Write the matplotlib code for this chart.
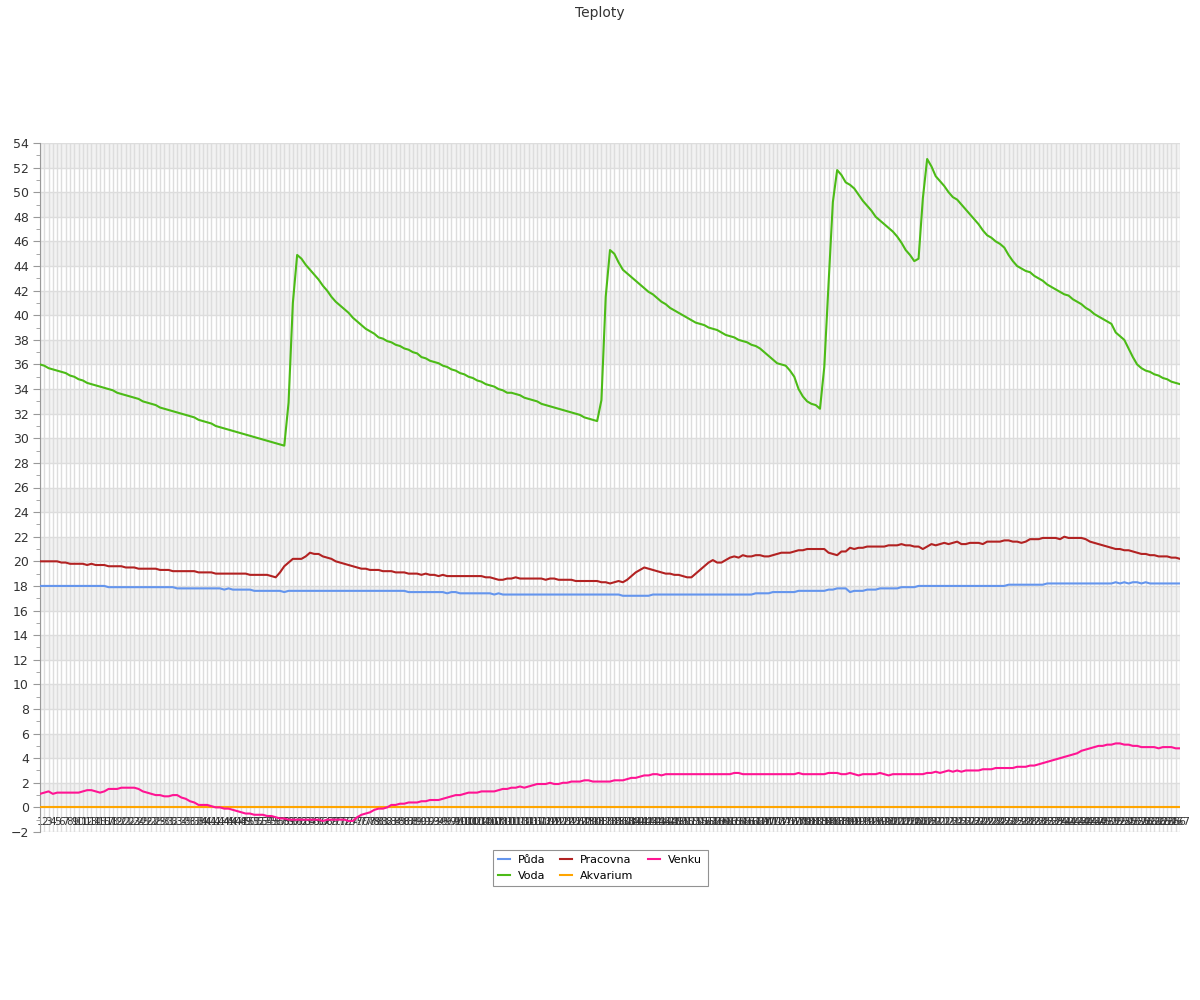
import numpy as np
import matplotlib
matplotlib.use('Agg')
import matplotlib.pyplot as plt
from matplotlib.ticker import MultipleLocator

#_____________________________________________
# data
title = "Teploty"
series_names = ["Půda", "Voda", "Pracovna", "Akvarium", "Venku"]
series_colors = ["#6495ED", "#4CBB17", "#B22222", "#FFA500", "#FF1493"]

puda = [
    18.0, 18.0, 18.0, 18.0, 18.0, 18.0, 18.0, 18.0, 18.0, 18.0,
    18.0, 18.0, 18.0, 18.0, 18.0, 18.0, 17.9, 17.9, 17.9, 17.9,
    17.9, 17.9, 17.9, 17.9, 17.9, 17.9, 17.9, 17.9, 17.9, 17.9,
    17.9, 17.9, 17.8, 17.8, 17.8, 17.8, 17.8, 17.8, 17.8, 17.8,
    17.8, 17.8, 17.8, 17.7, 17.8, 17.7, 17.7, 17.7, 17.7, 17.7,
    17.6, 17.6, 17.6, 17.6, 17.6, 17.6, 17.6, 17.5, 17.6, 17.6,
    17.6, 17.6, 17.6, 17.6, 17.6, 17.6, 17.6, 17.6, 17.6, 17.6,
    17.6, 17.6, 17.6, 17.6, 17.6, 17.6, 17.6, 17.6, 17.6, 17.6,
    17.6, 17.6, 17.6, 17.6, 17.6, 17.6, 17.5, 17.5, 17.5, 17.5,
    17.5, 17.5, 17.5, 17.5, 17.5, 17.4, 17.5, 17.5, 17.4, 17.4,
    17.4, 17.4, 17.4, 17.4, 17.4, 17.4, 17.3, 17.4, 17.3, 17.3,
    17.3, 17.3, 17.3, 17.3, 17.3, 17.3, 17.3, 17.3, 17.3, 17.3,
    17.3, 17.3, 17.3, 17.3, 17.3, 17.3, 17.3, 17.3, 17.3, 17.3,
    17.3, 17.3, 17.3, 17.3, 17.3, 17.3, 17.2, 17.2, 17.2, 17.2,
    17.2, 17.2, 17.2, 17.3, 17.3, 17.3, 17.3, 17.3, 17.3, 17.3,
    17.3, 17.3, 17.3, 17.3, 17.3, 17.3, 17.3, 17.3, 17.3, 17.3,
    17.3, 17.3, 17.3, 17.3, 17.3, 17.3, 17.3, 17.4, 17.4, 17.4,
    17.4, 17.5, 17.5, 17.5, 17.5, 17.5, 17.5, 17.6, 17.6, 17.6,
    17.6, 17.6, 17.6, 17.6, 17.7, 17.7, 17.8, 17.8, 17.8, 17.5,
    17.6, 17.6, 17.6, 17.7, 17.7, 17.7, 17.8, 17.8, 17.8, 17.8,
    17.8, 17.9, 17.9, 17.9, 17.9, 18.0, 18.0, 18.0, 18.0, 18.0,
    18.0, 18.0, 18.0, 18.0, 18.0, 18.0, 18.0, 18.0, 18.0, 18.0,
    18.0, 18.0, 18.0, 18.0, 18.0, 18.0, 18.1, 18.1, 18.1, 18.1,
    18.1, 18.1, 18.1, 18.1, 18.1, 18.2, 18.2, 18.2, 18.2, 18.2,
    18.2, 18.2, 18.2, 18.2, 18.2, 18.2, 18.2, 18.2, 18.2, 18.2,
    18.2, 18.3, 18.2, 18.3, 18.2, 18.3, 18.3, 18.2, 18.3, 18.2,
    18.2, 18.2, 18.2, 18.2, 18.2, 18.2, 18.2,
]

voda = [
    36.0, 35.9, 35.7, 35.6, 35.5, 35.4, 35.3, 35.1, 35.0, 34.8,
    34.7, 34.5, 34.4, 34.3, 34.2, 34.1, 34.0, 33.9, 33.7, 33.6,
    33.5, 33.4, 33.3, 33.2, 33.0, 32.9, 32.8, 32.7, 32.5, 32.4,
    32.3, 32.2, 32.1, 32.0, 31.9, 31.8, 31.7, 31.5, 31.4, 31.3,
    31.2, 31.0, 30.9, 30.8, 30.7, 30.6, 30.5, 30.4, 30.3, 30.2,
    30.1, 30.0, 29.9, 29.8, 29.7, 29.6, 29.5, 29.4, 32.9, 41.0,
    44.9, 44.6, 44.1, 43.7, 43.3, 42.9, 42.4, 42.0, 41.5, 41.1,
    40.8, 40.5, 40.2, 39.8, 39.5, 39.2, 38.9, 38.7, 38.5, 38.2,
    38.1, 37.9, 37.8, 37.6, 37.5, 37.3, 37.2, 37.0, 36.9, 36.6,
    36.5, 36.3, 36.2, 36.1, 35.9, 35.8, 35.6, 35.5, 35.3, 35.2,
    35.0, 34.9, 34.7, 34.6, 34.4, 34.3, 34.2, 34.0, 33.9, 33.7,
    33.7, 33.6, 33.5, 33.3, 33.2, 33.1, 33.0, 32.8, 32.7, 32.6,
    32.5, 32.4, 32.3, 32.2, 32.1, 32.0, 31.9, 31.7, 31.6, 31.5,
    31.4, 33.1, 41.5, 45.3, 45.0, 44.3, 43.7, 43.4, 43.1, 42.8,
    42.5, 42.2, 41.9, 41.7, 41.4, 41.1, 40.9, 40.6, 40.4, 40.2,
    40.0, 39.8, 39.6, 39.4, 39.3, 39.2, 39.0, 38.9, 38.8, 38.6,
    38.4, 38.3, 38.2, 38.0, 37.9, 37.8, 37.6, 37.5, 37.3, 37.0,
    36.7, 36.4, 36.1, 36.0, 35.9, 35.5, 35.0, 34.0, 33.4, 33.0,
    32.8, 32.7, 32.4, 35.8, 42.6, 49.2, 51.8, 51.4, 50.8, 50.6,
    50.3, 49.8, 49.3, 48.9, 48.5, 48.0, 47.7, 47.4, 47.1, 46.8,
    46.4, 45.9, 45.3, 44.9, 44.4, 44.6, 49.5, 52.7, 52.1, 51.3,
    50.9, 50.5, 50.0, 49.6, 49.4, 49.0, 48.6, 48.2, 47.8, 47.4,
    46.9, 46.5, 46.3, 46.0, 45.8, 45.5, 44.9, 44.4, 44.0, 43.8,
    43.6, 43.5, 43.2, 43.0, 42.8, 42.5, 42.3, 42.1, 41.9, 41.7,
    41.6, 41.3, 41.1, 40.9, 40.6, 40.4, 40.1, 39.9, 39.7, 39.5,
    39.3, 38.6, 38.3, 38.0, 37.3, 36.6, 36.0, 35.7, 35.5, 35.4,
    35.2, 35.1, 34.9, 34.8, 34.6, 34.5, 34.4,
]

pracovna = [
    20.0, 20.0, 20.0, 20.0, 20.0, 19.9, 19.9, 19.8, 19.8, 19.8,
    19.8, 19.7, 19.8, 19.7, 19.7, 19.7, 19.6, 19.6, 19.6, 19.6,
    19.5, 19.5, 19.5, 19.4, 19.4, 19.4, 19.4, 19.4, 19.3, 19.3,
    19.3, 19.2, 19.2, 19.2, 19.2, 19.2, 19.2, 19.1, 19.1, 19.1,
    19.1, 19.0, 19.0, 19.0, 19.0, 19.0, 19.0, 19.0, 19.0, 18.9,
    18.9, 18.9, 18.9, 18.9, 18.8, 18.7, 19.1, 19.6, 19.9, 20.2,
    20.2, 20.2, 20.4, 20.7, 20.6, 20.6, 20.4, 20.3, 20.2, 20.0,
    19.9, 19.8, 19.7, 19.6, 19.5, 19.4, 19.4, 19.3, 19.3, 19.3,
    19.2, 19.2, 19.2, 19.1, 19.1, 19.1, 19.0, 19.0, 19.0, 18.9,
    19.0, 18.9, 18.9, 18.8, 18.9, 18.8, 18.8, 18.8, 18.8, 18.8,
    18.8, 18.8, 18.8, 18.8, 18.7, 18.7, 18.6, 18.5, 18.5, 18.6,
    18.6, 18.7, 18.6, 18.6, 18.6, 18.6, 18.6, 18.6, 18.5, 18.6,
    18.6, 18.5, 18.5, 18.5, 18.5, 18.4, 18.4, 18.4, 18.4, 18.4,
    18.4, 18.3, 18.3, 18.2, 18.3, 18.4, 18.3, 18.5, 18.8, 19.1,
    19.3, 19.5, 19.4, 19.3, 19.2, 19.1, 19.0, 19.0, 18.9, 18.9,
    18.8, 18.7, 18.7, 19.0, 19.3, 19.6, 19.9, 20.1, 19.9, 19.9,
    20.1, 20.3, 20.4, 20.3, 20.5, 20.4, 20.4, 20.5, 20.5, 20.4,
    20.4, 20.5, 20.6, 20.7, 20.7, 20.7, 20.8, 20.9, 20.9, 21.0,
    21.0, 21.0, 21.0, 21.0, 20.7, 20.6, 20.5, 20.8, 20.8, 21.1,
    21.0, 21.1, 21.1, 21.2, 21.2, 21.2, 21.2, 21.2, 21.3, 21.3,
    21.3, 21.4, 21.3, 21.3, 21.2, 21.2, 21.0, 21.2, 21.4, 21.3,
    21.4, 21.5, 21.4, 21.5, 21.6, 21.4, 21.4, 21.5, 21.5, 21.5,
    21.4, 21.6, 21.6, 21.6, 21.6, 21.7, 21.7, 21.6, 21.6, 21.5,
    21.6, 21.8, 21.8, 21.8, 21.9, 21.9, 21.9, 21.9, 21.8, 22.0,
    21.9, 21.9, 21.9, 21.9, 21.8, 21.6, 21.5, 21.4, 21.3, 21.2,
    21.1, 21.0, 21.0, 20.9, 20.9, 20.8, 20.7, 20.6, 20.6, 20.5,
    20.5, 20.4, 20.4, 20.4, 20.3, 20.3, 20.2,
]

akvarium = [
    0, 0, 0, 0, 0, 0, 0, 0, 0, 0, 0, 0, 0, 0, 0, 0, 0, 0, 0, 0,
    0, 0, 0, 0, 0, 0, 0, 0, 0, 0, 0, 0, 0, 0, 0, 0, 0, 0, 0, 0,
    0, 0, 0, 0, 0, 0, 0, 0, 0, 0, 0, 0, 0, 0, 0, 0, 0, 0, 0, 0,
    0, 0, 0, 0, 0, 0, 0, 0, 0, 0, 0, 0, 0, 0, 0, 0, 0, 0, 0, 0,
    0, 0, 0, 0, 0, 0, 0, 0, 0, 0, 0, 0, 0, 0, 0, 0, 0, 0, 0, 0,
    0, 0, 0, 0, 0, 0, 0, 0, 0, 0, 0, 0, 0, 0, 0, 0, 0, 0, 0, 0,
    0, 0, 0, 0, 0, 0, 0, 0, 0, 0, 0, 0, 0, 0, 0, 0, 0, 0, 0, 0,
    0, 0, 0, 0, 0, 0, 0, 0, 0, 0, 0, 0, 0, 0, 0, 0, 0, 0, 0, 0,
    0, 0, 0, 0, 0, 0, 0, 0, 0, 0, 0, 0, 0, 0, 0, 0, 0, 0, 0, 0,
    0, 0, 0, 0, 0, 0, 0, 0, 0, 0, 0, 0, 0, 0, 0, 0, 0, 0, 0, 0,
    0, 0, 0, 0, 0, 0, 0, 0, 0, 0, 0, 0, 0, 0, 0, 0, 0, 0, 0, 0,
    0, 0, 0, 0, 0, 0, 0, 0, 0, 0, 0, 0, 0, 0, 0, 0, 0, 0, 0, 0,
    0, 0, 0, 0, 0, 0, 0, 0, 0, 0, 0, 0, 0, 0, 0, 0, 0, 0, 0, 0,
    0, 0, 0, 0, 0, 0, 0,
]

venku = [
    1.1, 1.2, 1.3, 1.1, 1.2, 1.2, 1.2, 1.2, 1.2, 1.2,
    1.3, 1.4, 1.4, 1.3, 1.2, 1.3, 1.5, 1.5, 1.5, 1.6,
    1.6, 1.6, 1.6, 1.5, 1.3, 1.2, 1.1, 1.0, 1.0, 0.9,
    0.9, 1.0, 1.0, 0.8, 0.7, 0.5, 0.4, 0.2, 0.2, 0.2,
    0.1, 0.0, 0.0, -0.1, -0.1, -0.2, -0.3, -0.4, -0.5, -0.5,
    -0.6, -0.6, -0.6, -0.7, -0.7, -0.8, -0.9, -0.9, -1.0, -1.0,
    -1.0, -1.0, -1.0, -1.0, -1.0, -1.0, -1.1, -1.0, -1.0, -1.0,
    -1.0, -1.0, -1.1, -1.1, -0.8, -0.6, -0.5, -0.4, -0.2, -0.1,
    -0.1, 0.0, 0.2, 0.2, 0.3, 0.3, 0.4, 0.4, 0.4, 0.5,
    0.5, 0.6, 0.6, 0.6, 0.7, 0.8, 0.9, 1.0, 1.0, 1.1,
    1.2, 1.2, 1.2, 1.3, 1.3, 1.3, 1.3, 1.4, 1.5, 1.5,
    1.6, 1.6, 1.7, 1.6, 1.7, 1.8, 1.9, 1.9, 1.9, 2.0,
    1.9, 1.9, 2.0, 2.0, 2.1, 2.1, 2.1, 2.2, 2.2, 2.1,
    2.1, 2.1, 2.1, 2.1, 2.2, 2.2, 2.2, 2.3, 2.4, 2.4,
    2.5, 2.6, 2.6, 2.7, 2.7, 2.6, 2.7, 2.7, 2.7, 2.7,
    2.7, 2.7, 2.7, 2.7, 2.7, 2.7, 2.7, 2.7, 2.7, 2.7,
    2.7, 2.7, 2.8, 2.8, 2.7, 2.7, 2.7, 2.7, 2.7, 2.7,
    2.7, 2.7, 2.7, 2.7, 2.7, 2.7, 2.7, 2.8, 2.7, 2.7,
    2.7, 2.7, 2.7, 2.7, 2.8, 2.8, 2.8, 2.7, 2.7, 2.8,
    2.7, 2.6, 2.7, 2.7, 2.7, 2.7, 2.8, 2.7, 2.6, 2.7,
    2.7, 2.7, 2.7, 2.7, 2.7, 2.7, 2.7, 2.8, 2.8, 2.9,
    2.8, 2.9, 3.0, 2.9, 3.0, 2.9, 3.0, 3.0, 3.0, 3.0,
    3.1, 3.1, 3.1, 3.2, 3.2, 3.2, 3.2, 3.2, 3.3, 3.3,
    3.3, 3.4, 3.4, 3.5, 3.6, 3.7, 3.8, 3.9, 4.0, 4.1,
    4.2, 4.3, 4.4, 4.6, 4.7, 4.8, 4.9, 5.0, 5.0, 5.1,
    5.1, 5.2, 5.2, 5.1, 5.1, 5.0, 5.0, 4.9, 4.9, 4.9,
    4.9, 4.8, 4.9, 4.9, 4.9, 4.8, 4.8,
]

categories = [str(i + 1) for i in range(len(voda))]
all_series = [puda, voda, pracovna, akvarium, venku]
for s in all_series:
    assert len(s) == len(categories), len(s)

#_____________________________________________
fig = plt.figure(figsize=(12, 10), dpi=100)
ax = fig.add_axes([40 / 1200, 0.168, 1140 / 1200, 0.857 - 0.168])

# alternating bands
for b in range(0, 54, 4):
    ax.axhspan(b, b + 2, color="#f2f2f2", zorder=0, lw=0)

for name, values, color in zip(series_names, all_series, series_colors):
    ax.plot(categories, values, color=color, lw=1.5, label=name, zorder=3)

ax.set_xlim(0, len(categories) - 1)
ax.set_ylim(-2, 54)
ax.yaxis.set_major_locator(MultipleLocator(2))
ax.yaxis.set_minor_locator(MultipleLocator(1))
ax.grid(True, which="major", color="#dddddd", lw=1, zorder=1)
ax.set_axisbelow(True)

for side in ["top", "right"]:
    ax.spines[side].set_visible(False)
ax.spines["bottom"].set_visible(False)
ax.spines["left"].set_color("#999999")

ax.tick_params(axis="y", which="major", length=5, color="#999999",
               labelsize=9, labelcolor="#333333", pad=3)
ax.tick_params(axis="y", which="minor", length=3, color="#999999")
ax.tick_params(axis="x", length=0, labelsize=7.5, labelcolor="#333333", pad=-11)

fig.suptitle(title, y=0.994, fontsize=10, color="#333333")

leg = fig.legend(loc="upper center", bbox_to_anchor=(0.5, 0.156), ncol=3,
                 fontsize=8, frameon=True, fancybox=False, edgecolor="#777777",
                 handlelength=1.1, handletextpad=0.7, columnspacing=1.3,
                 borderpad=0.5, labelspacing=0.5)
leg.get_frame().set_linewidth(0.8)

plt.savefig("out.png", dpi=100)
